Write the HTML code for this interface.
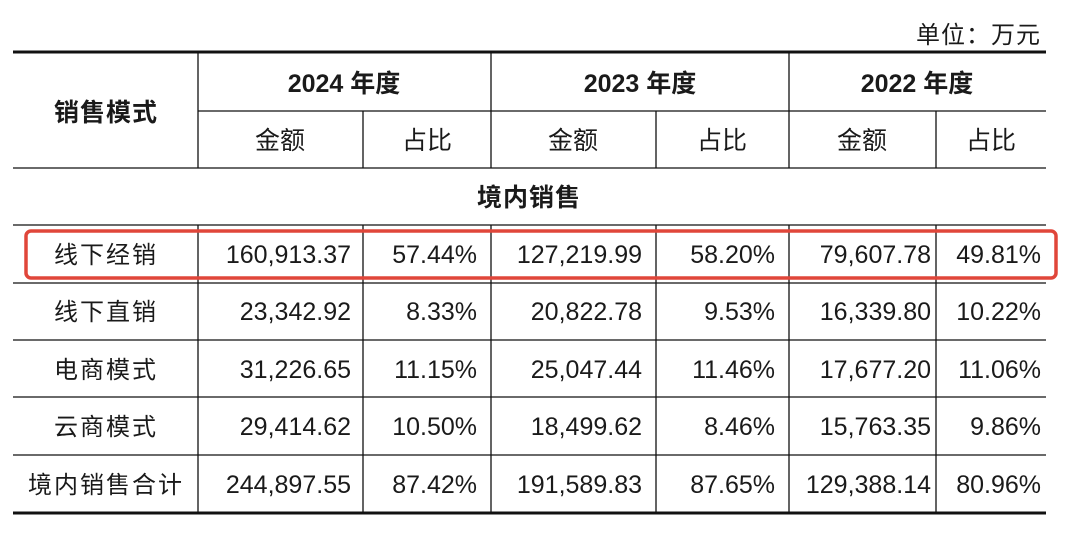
<!DOCTYPE html>
<html><head><meta charset="utf-8"><style>
html,body{margin:0;padding:0;background:#fff;}
svg{display:block;}
text{font-family:"Liberation Sans","Noto Sans CJK SC",sans-serif;fill:#1a1a1a;}
.b{font-weight:bold;}
</style></head><body>
<svg width="1080" height="542" viewBox="0 0 1080 542" xmlns="http://www.w3.org/2000/svg">
<text x="1041" y="43" text-anchor="end" font-size="24" letter-spacing="1">单位：万元</text>
<g stroke="#111" fill="none">
<line x1="13" y1="52" x2="1046" y2="52" stroke-width="3"/>
<line x1="13" y1="513" x2="1046" y2="513" stroke-width="3"/>
<line x1="198" y1="111" x2="1046" y2="111" stroke-width="1.3"/>
<line x1="13" y1="168" x2="1046" y2="168" stroke-width="1.3"/>
<line x1="13" y1="225" x2="1046" y2="225" stroke-width="1.3"/>
<line x1="13" y1="283" x2="1046" y2="283" stroke-width="1.3"/>
<line x1="13" y1="340" x2="1046" y2="340" stroke-width="1.3"/>
<line x1="13" y1="397" x2="1046" y2="397" stroke-width="1.3"/>
<line x1="13" y1="455" x2="1046" y2="455" stroke-width="1.3"/>
<line x1="198" y1="52" x2="198" y2="168" stroke-width="1.3"/>
<line x1="491" y1="52" x2="491" y2="168" stroke-width="1.3"/>
<line x1="789" y1="52" x2="789" y2="168" stroke-width="1.3"/>
<line x1="363" y1="111" x2="363" y2="168" stroke-width="1.3"/>
<line x1="656" y1="111" x2="656" y2="168" stroke-width="1.3"/>
<line x1="936" y1="111" x2="936" y2="168" stroke-width="1.3"/>
<g stroke-width="1.3">
<line x1="198" y1="225" x2="198" y2="513"/>
<line x1="363" y1="225" x2="363" y2="513"/>
<line x1="491" y1="225" x2="491" y2="513"/>
<line x1="656" y1="225" x2="656" y2="513"/>
<line x1="789" y1="225" x2="789" y2="513"/>
<line x1="936" y1="225" x2="936" y2="513"/>
</g>
</g>
<g font-size="25" text-anchor="middle">
<text class="b" x="106" y="121" letter-spacing="1">销售模式</text>
<text class="b" x="344" y="92">2024 年度</text>
<text class="b" x="640" y="92">2023 年度</text>
<text class="b" x="917" y="92">2022 年度</text>
<text x="280" y="149">金额</text>
<text x="427" y="149">占比</text>
<text x="573" y="149">金额</text>
<text x="722" y="149">占比</text>
<text x="862" y="149">金额</text>
<text x="991" y="149">占比</text>
<text class="b" x="529" y="206" letter-spacing="1">境内销售</text>
</g>
<g font-size="24" text-anchor="middle" letter-spacing="2">
<text x="106" y="263">线下经销</text>
<text x="106" y="320">线下直销</text>
<text x="106" y="378">电商模式</text>
<text x="106" y="435">云商模式</text>
<text x="106" y="493">境内销售合计</text>
</g>
<g font-size="25" text-anchor="end">
<text x="351" y="263">160,913.37</text><text x="477" y="263">57.44%</text><text x="642" y="263">127,219.99</text><text x="775" y="263">58.20%</text><text x="931" y="263">79,607.78</text><text x="1041" y="263">49.81%</text>
<text x="351" y="320">23,342.92</text><text x="477" y="320">8.33%</text><text x="642" y="320">20,822.78</text><text x="775" y="320">9.53%</text><text x="931" y="320">16,339.80</text><text x="1041" y="320">10.22%</text>
<text x="351" y="378">31,226.65</text><text x="477" y="378">11.15%</text><text x="642" y="378">25,047.44</text><text x="775" y="378">11.46%</text><text x="931" y="378">17,677.20</text><text x="1041" y="378">11.06%</text>
<text x="351" y="435">29,414.62</text><text x="477" y="435">10.50%</text><text x="642" y="435">18,499.62</text><text x="775" y="435">8.46%</text><text x="931" y="435">15,763.35</text><text x="1041" y="435">9.86%</text>
<text x="351" y="493">244,897.55</text><text x="477" y="493">87.42%</text><text x="642" y="493">191,589.83</text><text x="775" y="493">87.65%</text><text x="931" y="493">129,388.14</text><text x="1041" y="493">80.96%</text>
</g>
<rect x="26" y="231" width="1030" height="47" rx="5" ry="5" fill="none" stroke="#e0463a" stroke-width="3.5"/>
</svg>
</body></html>
